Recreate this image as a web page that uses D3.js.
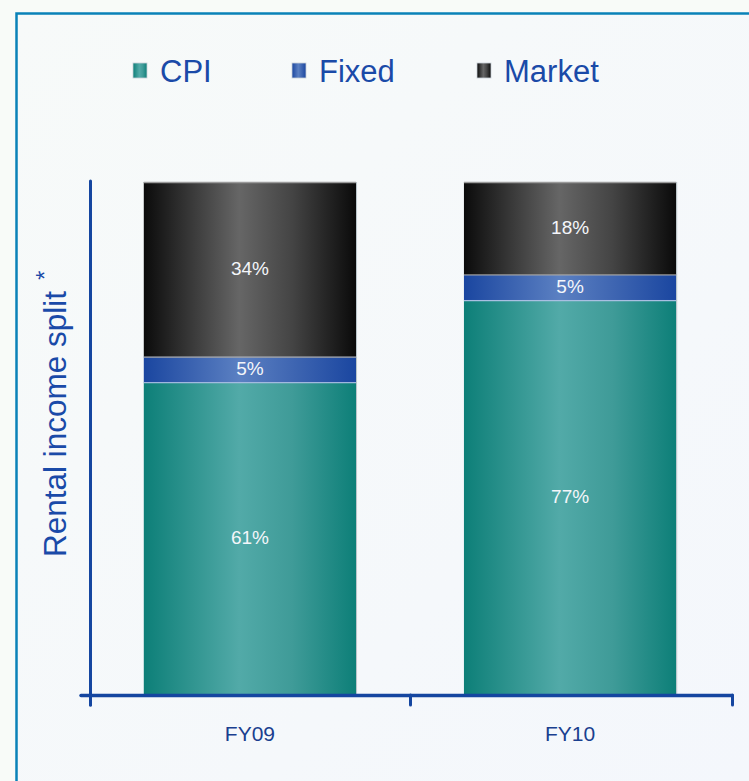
<!DOCTYPE html>
<html><head><meta charset="utf-8">
<script src="https://cdn.jsdelivr.net/npm/d3@7"></script>
<style>html,body{margin:0;padding:0;background:#f8fbf8;}svg{display:block;}</style>
</head><body>
<svg id="c" width="749" height="781"></svg>
<script>
const categories = ["FY09", "FY10"];
const seriesNames = ["CPI", "Fixed", "Market"];
const cpiValues = [61, 77];
const fixedValues = [5, 5];
const marketValues = [34, 18];
const valueLabels = {CPI: ["61%", "77%"], Fixed: ["5%", "5%"], Market: ["34%", "18%"]};
const yLabel = "Rental income split";

const svg = d3.select("#c");
const W = 749, H = 781;
const defs = svg.append("defs");

const bg = defs.append("linearGradient").attr("id","bg").attr("x1","0").attr("x2","1").attr("y1","0").attr("y2","1");
bg.append("stop").attr("offset","0").attr("stop-color","#f7faf9");
bg.append("stop").attr("offset","1").attr("stop-color","#f4f7fc");
svg.append("rect").attr("x",16).attr("y",13).attr("width",W-16).attr("height",H-13).attr("fill","url(#bg)");
svg.append("path").attr("d",`M16.5,${H} L16.5,13.5 L${W},13.5`).attr("fill","none").attr("stroke","#0a82b8").attr("stroke-width",2.5);

const colors = {
  CPI: ["#0d7f78","#2f948f","#52aaa8","#3f9b98","#0d7f78"],
  Fixed: ["#1a46a0","#3a62b0","#5b80c2","#3f66b2","#1a46a0"],
  Market: ["#0b0b0b","#383838","#666666","#444444","#0a0a0a"]
};
const offs = ["0","0.22","0.45","0.7","1"];
seriesNames.forEach(s => {
  const g = defs.append("linearGradient").attr("id","g"+s).attr("x1","0").attr("x2","1").attr("y1","0").attr("y2","0");
  colors[s].forEach((c,i)=>g.append("stop").attr("offset",offs[i]).attr("stop-color",c));
});

const x0 = 90, x1 = 732, yTop = 182, yBot = 695;
const x = d3.scaleBand().domain(categories).range([x0, x1 - 2]).paddingInner(0.337).paddingOuter(0.168);
const y = d3.scaleLinear().domain([0, 100]).range([yBot, yTop]);

const rows = categories.map((c,i)=>({cat:c, CPI:cpiValues[i], Fixed:fixedValues[i], Market:marketValues[i]}));
const stack = d3.stack().keys(seriesNames)(rows);

stack.forEach(layer => {
  const s = layer.key;
  const g = svg.append("g");
  g.selectAll("rect").data(layer).join("rect")
    .attr("x", d=>x(d.data.cat))
    .attr("y", d=>y(d[1]))
    .attr("width", x.bandwidth())
    .attr("height", d=>y(d[0])-y(d[1]))
    .attr("fill", "url(#g"+s+")");
  g.selectAll("line.top").data(layer).join("line").attr("class","top")
    .attr("x1", d=>x(d.data.cat)).attr("x2", d=>x(d.data.cat)+x.bandwidth())
    .attr("y1", d=>y(d[1])+0.5).attr("y2", d=>y(d[1])+0.5)
    .attr("stroke", s==="CPI" ? "#a9bfe2" : (s==="Fixed" ? "#a8a8a8" : "#9a9a9a")).attr("stroke-width",1.5);
  g.selectAll("line.right").data(layer).join("line").attr("class","right")
    .attr("x1", d=>x(d.data.cat)+x.bandwidth()+0.5).attr("x2", d=>x(d.data.cat)+x.bandwidth()+0.5)
    .attr("y1", d=>y(d[1])).attr("y2", d=>y(d[0]))
    .attr("stroke", "#b8c4c8").attr("stroke-width",1);
  g.selectAll("text").data(layer).join("text")
    .attr("x", d=>x(d.data.cat)+x.bandwidth()/2)
    .attr("y", d=>(y(d[0])+y(d[1]))/2 - 1)
    .attr("dy","0.36em")
    .attr("text-anchor","middle")
    .attr("fill","#f4f6fa")
    .attr("font-family","Liberation Sans, Arial, sans-serif")
    .attr("font-size",19)
    .text((d,i)=>valueLabels[s][i]);
});

const axisColor = "#1546a0";
svg.append("line").attr("x1",x0+0.5).attr("x2",x0+0.5).attr("y1",181).attr("y2",705)
  .attr("stroke",axisColor).attr("stroke-width",3).attr("stroke-linecap","round");
svg.append("line").attr("x1",81).attr("x2",x1).attr("y1",yBot+0.5).attr("y2",yBot+0.5)
  .attr("stroke",axisColor).attr("stroke-width",3.5).attr("stroke-linecap","round");
const tickXs = [x0, (x(categories[0])+x.bandwidth()+x(categories[1]))/2, x1];
svg.selectAll("line.tick").data(tickXs).join("line").attr("class","tick")
  .attr("x1",d=>d+0.5).attr("x2",d=>d+0.5).attr("y1",yBot).attr("y2",705)
  .attr("stroke",axisColor).attr("stroke-width",3).attr("stroke-linecap","round");
svg.selectAll("text.cat").data(categories).join("text").attr("class","cat")
  .attr("x",d=>x(d)+x.bandwidth()/2).attr("y",741)
  .attr("text-anchor","middle").attr("fill","#1a3f8f")
  .attr("font-family","Liberation Sans, Arial, sans-serif").attr("font-size",21)
  .text(d=>d);

const yl = svg.append("text").attr("transform","translate(66,557) rotate(-90)")
  .attr("text-anchor","start").attr("fill","#1a4aa8")
  .attr("font-family","Liberation Sans, Arial, sans-serif").attr("font-size",31.5);
yl.append("tspan").text(yLabel);
yl.append("tspan").attr("dx",11).attr("dy",-13).attr("font-size",24).text("*");

const legX = [133, 292, 477];
const lg = svg.selectAll("g.leg").data(seriesNames).join("g").attr("class","leg")
  .attr("transform",(d,i)=>`translate(${legX[i]},0)`);
lg.append("rect").attr("x",0).attr("y",63).attr("width",14).attr("height",15)
  .attr("fill",d=>"url(#g"+d+")").attr("stroke","#c8d0d8").attr("stroke-width",0.8);
lg.append("text").attr("x",27).attr("y",82).attr("fill","#1a4aa8")
  .attr("font-family","Liberation Sans, Arial, sans-serif").attr("font-size",31)
  .text(d=>d);
</script>
</body></html>
